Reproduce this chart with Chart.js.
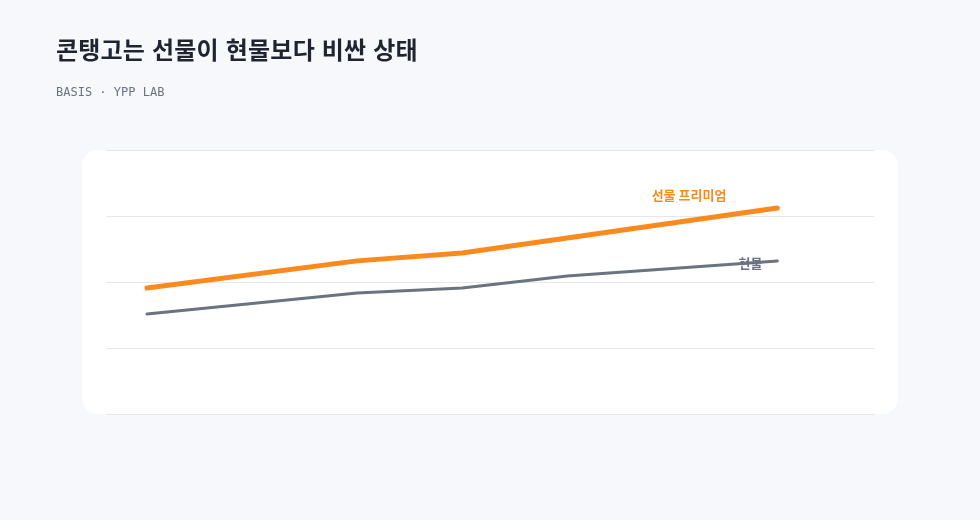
<!DOCTYPE html>
<html lang="ko">
<head>
<meta charset="utf-8">
<script src="https://cdn.jsdelivr.net/npm/chart.js@4.4.1/dist/chart.umd.min.js"></script>
<style>
  html, body { margin: 0; padding: 0; background: #f7f8fc; }
  #wrap { position: relative; width: 980px; height: 520px; }
  #title { position: absolute; left: 56px; top: 31px; margin: 0; font: 700 24px "Noto Sans CJK KR", "Noto Sans", sans-serif; color: #1f2430; letter-spacing: 0.2px; }
  #sub { position: absolute; left: 56px; top: 85px; margin: 0; font: 12px "DejaVu Sans Mono", monospace; color: #6b7280; }
  canvas { position: absolute; left: 0; top: 0; }
</style>
</head>
<body>
<div id="wrap">
  <canvas id="chart" width="980" height="520"></canvas>
  <h1 id="title">콘탱고는 선물이 현물보다 비싼 상태</h1>
  <p id="sub">BASIS · YPP LAB</p>
</div>
<script>
// time steps (x) and the two series
const steps = [0, 2, 3, 4, 6];
const futures = [47.7, 58.0, 61.0, 66.7, 78.0];
const spot = [37.9, 45.8, 47.7, 52.3, 58.0];
const seriesLabels = ['선물 프리미엄', '현물'];

const ORANGE = '#fb8a1e';
const GREY = '#6b7280';

const toPoints = (vals) => vals.map((v, i) => ({ x: steps[i], y: v }));

// white rounded card behind the plot
const cardPlugin = {
    id: 'card',
    beforeDraw(chart) {
        const { ctx, chartArea: a } = chart;
        const x = a.left - 24, y = a.top, w = a.right - a.left + 48, h = a.bottom - a.top, r = 16;
        ctx.save();
        ctx.fillStyle = '#ffffff';
        ctx.beginPath();
        ctx.roundRect(x, y, w, h, r);
        ctx.fill();
        ctx.restore();
    }
};

// end labels next to the last point of each line
const endLabels = {
    id: 'endLabels',
    afterDatasetsDraw(chart) {
        const { ctx } = chart;
        const offsets = [{ dx: -51, dy: -13 }, { dx: -15, dy: 2 }];
        ctx.save();
        ctx.font = '700 13px "Noto Sans CJK KR", sans-serif';
        ctx.textAlign = 'right';
        ctx.textBaseline = 'middle';
        chart.data.datasets.forEach((ds, i) => {
            const meta = chart.getDatasetMeta(i);
            const last = meta.data[meta.data.length - 1];
            ctx.fillStyle = ds.borderColor;
            ctx.fillText(seriesLabels[i], last.x + offsets[i].dx, last.y + offsets[i].dy);
        });
        ctx.restore();
    }
};

new Chart(document.getElementById('chart'), {
    type: 'line',
    data: {
        datasets: [
            { label: seriesLabels[0], data: toPoints(futures), borderColor: ORANGE, borderWidth: 5, pointRadius: 0, borderCapStyle: 'round', borderJoinStyle: 'round', tension: 0 },
            { label: seriesLabels[1], data: toPoints(spot), borderColor: GREY, borderWidth: 3, pointRadius: 0, borderCapStyle: 'round', borderJoinStyle: 'round', tension: 0 }
        ]
    },
    options: {
        responsive: false,
        animation: false,
        layout: { padding: { left: 106, right: 106, top: 150, bottom: 106 } },
        scales: {
            x: { type: 'linear', min: -0.39, max: 6.92, display: false },
            y: {
                min: 0, max: 100,
                ticks: { display: false, stepSize: 25 },
                border: { display: false },
                grid: { color: '#e5e7eb', lineWidth: 1, drawTicks: false }
            }
        },
        plugins: { legend: { display: false }, tooltip: { enabled: false } }
    },
    plugins: [cardPlugin, endLabels]
});
</script>
</body>
</html>
